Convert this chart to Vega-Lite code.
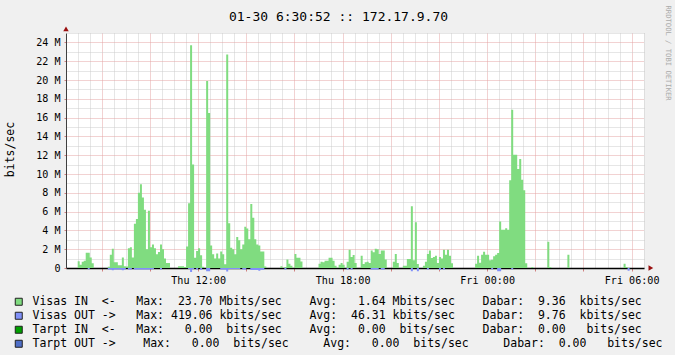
{
"$schema": "https://vega.github.io/schema/vega-lite/v6.json",
"width": 578, "height": 235,
"autosize": {"type": "none"},
"padding": {"left": 66, "top": 33, "right": 31, "bottom": 87},
"background": "#F0F0F0",
"config": {"view": {"stroke": null, "fill": "#FFFFFF"}, "font": "DejaVu Sans Mono"},
"data": {"values": [
{"t":"2009-01-29T07:00:00Z","i":0.71,"o":0},{"t":"2009-01-29T07:05:00Z","i":0.35,"o":0},{"t":"2009-01-29T07:10:00Z","i":0.67,"o":0},{"t":"2009-01-29T07:15:00Z","i":0.78,"o":0},{"t":"2009-01-29T07:20:00Z","i":1.63,"o":0},{"t":"2009-01-29T07:25:00Z","i":1.63,"o":-0.14},{"t":"2009-01-29T07:30:00Z","i":1.13,"o":0},{"t":"2009-01-29T07:35:00Z","i":0.5,"o":0},{"t":"2009-01-29T07:40:00Z","i":0,"o":0},
{"t":"2009-01-29T08:15:00Z","i":0.14,"o":-0.15},{"t":"2009-01-29T08:20:00Z","i":1.4,"o":-0.15},{"t":"2009-01-29T08:25:00Z","i":2.05,"o":-0.25},{"t":"2009-01-29T08:30:00Z","i":0.6,"o":-0.15},{"t":"2009-01-29T08:35:00Z","i":0.6,"o":-0.15},{"t":"2009-01-29T08:40:00Z","i":0.28,"o":-0.15},{"t":"2009-01-29T08:45:00Z","i":0.28,"o":-0.15},{"t":"2009-01-29T08:50:00Z","i":1.13,"o":-0.25},{"t":"2009-01-29T08:55:00Z","i":0.18,"o":-0.15},
{"t":"2009-01-29T09:00:00Z","i":0.15,"o":0},{"t":"2009-01-29T09:05:00Z","i":2.1,"o":-0.15},{"t":"2009-01-29T09:10:00Z","i":2.2,"o":-0.15},{"t":"2009-01-29T09:15:00Z","i":1.13,"o":0},{"t":"2009-01-29T09:20:00Z","i":4.7,"o":-0.15},{"t":"2009-01-29T09:25:00Z","i":5.2,"o":-0.15},{"t":"2009-01-29T09:30:00Z","i":8.0,"o":-0.15},{"t":"2009-01-29T09:35:00Z","i":8.9,"o":-0.15},{"t":"2009-01-29T09:40:00Z","i":7.5,"o":-0.15},{"t":"2009-01-29T09:45:00Z","i":6.2,"o":-0.15},{"t":"2009-01-29T09:50:00Z","i":2.0,"o":-0.15},{"t":"2009-01-29T09:55:00Z","i":6.1,"o":-0.15},
{"t":"2009-01-29T10:00:00Z","i":2.2,"o":-0.15},{"t":"2009-01-29T10:05:00Z","i":2.5,"o":-0.1},{"t":"2009-01-29T10:10:00Z","i":2.1,"o":0},{"t":"2009-01-29T10:15:00Z","i":1.45,"o":0},{"t":"2009-01-29T10:20:00Z","i":1.7,"o":0},{"t":"2009-01-29T10:25:00Z","i":2.5,"o":-0.15},{"t":"2009-01-29T10:30:00Z","i":2.0,"o":0},{"t":"2009-01-29T10:35:00Z","i":1.0,"o":0},{"t":"2009-01-29T10:40:00Z","i":0.53,"o":0},{"t":"2009-01-29T10:45:00Z","i":0.53,"o":0},{"t":"2009-01-29T10:50:00Z","i":0,"o":0},
{"t":"2009-01-29T11:10:00Z","i":0.18,"o":0},{"t":"2009-01-29T11:15:00Z","i":0.18,"o":0},{"t":"2009-01-29T11:20:00Z","i":0.18,"o":0},{"t":"2009-01-29T11:25:00Z","i":0.1,"o":0},{"t":"2009-01-29T11:30:00Z","i":2.3,"o":0},{"t":"2009-01-29T11:35:00Z","i":6.9,"o":-0.1},{"t":"2009-01-29T11:40:00Z","i":23.7,"o":-0.42},{"t":"2009-01-29T11:45:00Z","i":11.0,"o":-0.1},{"t":"2009-01-29T11:50:00Z","i":1.1,"o":0},{"t":"2009-01-29T11:55:00Z","i":1.8,"o":-0.15},
{"t":"2009-01-29T12:00:00Z","i":2.1,"o":0},{"t":"2009-01-29T12:05:00Z","i":1.35,"o":-0.2},{"t":"2009-01-29T12:10:00Z","i":0.14,"o":0},{"t":"2009-01-29T12:15:00Z","i":0,"o":0},{"t":"2009-01-29T12:20:00Z","i":19.9,"o":-0.35},{"t":"2009-01-29T12:25:00Z","i":16.5,"o":-0.35},{"t":"2009-01-29T12:30:00Z","i":2.4,"o":0},{"t":"2009-01-29T12:35:00Z","i":1.45,"o":0},{"t":"2009-01-29T12:40:00Z","i":1.0,"o":0},{"t":"2009-01-29T12:45:00Z","i":1.55,"o":0},{"t":"2009-01-29T12:50:00Z","i":1.0,"o":0},{"t":"2009-01-29T12:55:00Z","i":1.75,"o":-0.15},
{"t":"2009-01-29T13:00:00Z","i":1.45,"o":-0.15},{"t":"2009-01-29T13:05:00Z","i":0.4,"o":-0.15},{"t":"2009-01-29T13:10:00Z","i":22.7,"o":-0.38},{"t":"2009-01-29T13:15:00Z","i":4.75,"o":-0.1},{"t":"2009-01-29T13:20:00Z","i":2.15,"o":-0.1},{"t":"2009-01-29T13:25:00Z","i":2.0,"o":-0.1},{"t":"2009-01-29T13:30:00Z","i":1.45,"o":-0.1},{"t":"2009-01-29T13:35:00Z","i":3.3,"o":-0.1},{"t":"2009-01-29T13:40:00Z","i":2.95,"o":-0.1},{"t":"2009-01-29T13:45:00Z","i":2.0,"o":0},{"t":"2009-01-29T13:50:00Z","i":2.5,"o":-0.15},{"t":"2009-01-29T13:55:00Z","i":4.4,"o":-0.15},
{"t":"2009-01-29T14:00:00Z","i":4.2,"o":0},{"t":"2009-01-29T14:05:00Z","i":3.05,"o":0},{"t":"2009-01-29T14:10:00Z","i":6.8,"o":-0.2},{"t":"2009-01-29T14:15:00Z","i":5.35,"o":-0.2},{"t":"2009-01-29T14:20:00Z","i":3.05,"o":-0.2},{"t":"2009-01-29T14:25:00Z","i":2.5,"o":-0.2},{"t":"2009-01-29T14:30:00Z","i":2.4,"o":-0.28},{"t":"2009-01-29T14:35:00Z","i":1.75,"o":-0.18},{"t":"2009-01-29T14:40:00Z","i":1.75,"o":-0.18},{"t":"2009-01-29T14:45:00Z","i":0.15,"o":0},{"t":"2009-01-29T14:50:00Z","i":0,"o":0},
{"t":"2009-01-29T15:25:00Z","i":0.18,"o":0},{"t":"2009-01-29T15:30:00Z","i":0,"o":0},{"t":"2009-01-29T15:35:00Z","i":0.1,"o":-0.15},{"t":"2009-01-29T15:40:00Z","i":0.9,"o":0},{"t":"2009-01-29T15:45:00Z","i":0.46,"o":0},{"t":"2009-01-29T15:50:00Z","i":0.25,"o":0},{"t":"2009-01-29T15:55:00Z","i":0,"o":0},
{"t":"2009-01-29T16:00:00Z","i":1.5,"o":0},{"t":"2009-01-29T16:05:00Z","i":1.1,"o":0},{"t":"2009-01-29T16:10:00Z","i":1.1,"o":0},{"t":"2009-01-29T16:15:00Z","i":0.7,"o":0},{"t":"2009-01-29T16:20:00Z","i":0,"o":0},
{"t":"2009-01-29T17:00:00Z","i":0.46,"o":0},{"t":"2009-01-29T17:05:00Z","i":0.67,"o":0},{"t":"2009-01-29T17:10:00Z","i":0.6,"o":0},{"t":"2009-01-29T17:15:00Z","i":0.78,"o":0},{"t":"2009-01-29T17:20:00Z","i":0.78,"o":0},{"t":"2009-01-29T17:25:00Z","i":1.1,"o":0},{"t":"2009-01-29T17:30:00Z","i":1.1,"o":0},{"t":"2009-01-29T17:35:00Z","i":0.78,"o":0},{"t":"2009-01-29T17:40:00Z","i":0.25,"o":0},{"t":"2009-01-29T17:45:00Z","i":0,"o":0},{"t":"2009-01-29T17:50:00Z","i":0.35,"o":0},{"t":"2009-01-29T17:55:00Z","i":0.53,"o":0},
{"t":"2009-01-29T18:00:00Z","i":0.35,"o":0},{"t":"2009-01-29T18:05:00Z","i":0,"o":0},{"t":"2009-01-29T18:10:00Z","i":0.67,"o":-0.15},{"t":"2009-01-29T18:15:00Z","i":1.95,"o":0},{"t":"2009-01-29T18:20:00Z","i":1.17,"o":-0.15},{"t":"2009-01-29T18:25:00Z","i":1.38,"o":0},{"t":"2009-01-29T18:30:00Z","i":0.53,"o":0},{"t":"2009-01-29T18:35:00Z","i":0,"o":0},{"t":"2009-01-29T18:45:00Z","i":1.3,"o":0},{"t":"2009-01-29T18:50:00Z","i":0.43,"o":0},{"t":"2009-01-29T18:55:00Z","i":0.6,"o":0},
{"t":"2009-01-29T19:00:00Z","i":0.67,"o":0},{"t":"2009-01-29T19:05:00Z","i":0.53,"o":0},{"t":"2009-01-29T19:10:00Z","i":1.85,"o":-0.15},{"t":"2009-01-29T19:15:00Z","i":1.67,"o":-0.15},{"t":"2009-01-29T19:20:00Z","i":2.05,"o":-0.15},{"t":"2009-01-29T19:25:00Z","i":2.0,"o":-0.15},{"t":"2009-01-29T19:30:00Z","i":1.5,"o":0},{"t":"2009-01-29T19:35:00Z","i":1.85,"o":-0.15},{"t":"2009-01-29T19:40:00Z","i":1.85,"o":-0.15},{"t":"2009-01-29T19:45:00Z","i":0.9,"o":0},{"t":"2009-01-29T19:50:00Z","i":0,"o":0},
{"t":"2009-01-29T20:05:00Z","i":0.67,"o":0},{"t":"2009-01-29T20:10:00Z","i":1.5,"o":0},{"t":"2009-01-29T20:15:00Z","i":0.53,"o":0},{"t":"2009-01-29T20:20:00Z","i":0,"o":0},{"t":"2009-01-29T20:30:00Z","i":0.25,"o":0},{"t":"2009-01-29T20:35:00Z","i":0.25,"o":0},{"t":"2009-01-29T20:40:00Z","i":0.96,"o":0},{"t":"2009-01-29T20:45:00Z","i":0.96,"o":0},{"t":"2009-01-29T20:50:00Z","i":6.56,"o":-0.35},{"t":"2009-01-29T20:55:00Z","i":0.82,"o":0},
{"t":"2009-01-29T21:00:00Z","i":4.86,"o":0},{"t":"2009-01-29T21:05:00Z","i":0.43,"o":-0.35},{"t":"2009-01-29T21:10:00Z","i":0,"o":0},{"t":"2009-01-29T21:20:00Z","i":0.25,"o":0},{"t":"2009-01-29T21:25:00Z","i":0.67,"o":0},{"t":"2009-01-29T21:30:00Z","i":1.5,"o":-0.15},{"t":"2009-01-29T21:35:00Z","i":1.85,"o":0},{"t":"2009-01-29T21:40:00Z","i":1.06,"o":0},{"t":"2009-01-29T21:45:00Z","i":1.17,"o":0},{"t":"2009-01-29T21:50:00Z","i":1.3,"o":0},{"t":"2009-01-29T21:55:00Z","i":0.53,"o":0},
{"t":"2009-01-29T22:00:00Z","i":1.17,"o":-0.2},{"t":"2009-01-29T22:05:00Z","i":1.0,"o":0},{"t":"2009-01-29T22:10:00Z","i":1.95,"o":-0.15},{"t":"2009-01-29T22:15:00Z","i":1.42,"o":0},{"t":"2009-01-29T22:20:00Z","i":1.95,"o":0},{"t":"2009-01-29T22:25:00Z","i":1.3,"o":0},{"t":"2009-01-29T22:30:00Z","i":0.5,"o":0},{"t":"2009-01-29T22:35:00Z","i":0,"o":0},
{"t":"2009-01-29T23:30:00Z","i":0.46,"o":0},{"t":"2009-01-29T23:35:00Z","i":1.3,"o":0},{"t":"2009-01-29T23:40:00Z","i":0.57,"o":0},{"t":"2009-01-29T23:45:00Z","i":1.42,"o":0},{"t":"2009-01-29T23:50:00Z","i":1.74,"o":0},{"t":"2009-01-29T23:55:00Z","i":1.42,"o":0},
{"t":"2009-01-30T00:00:00Z","i":1.42,"o":0},{"t":"2009-01-30T00:05:00Z","i":0.82,"o":0},{"t":"2009-01-30T00:10:00Z","i":0.89,"o":-0.14},{"t":"2009-01-30T00:15:00Z","i":1.24,"o":0},{"t":"2009-01-30T00:20:00Z","i":1.42,"o":0},{"t":"2009-01-30T00:25:00Z","i":1.6,"o":-0.35},{"t":"2009-01-30T00:30:00Z","i":4.96,"o":-0.35},{"t":"2009-01-30T00:35:00Z","i":4.08,"o":0},{"t":"2009-01-30T00:40:00Z","i":4.08,"o":0},{"t":"2009-01-30T00:45:00Z","i":4.22,"o":0},{"t":"2009-01-30T00:50:00Z","i":4.08,"o":0},{"t":"2009-01-30T00:55:00Z","i":9.33,"o":0},
{"t":"2009-01-30T01:00:00Z","i":16.84,"o":-0.14},{"t":"2009-01-30T01:05:00Z","i":12.06,"o":0},{"t":"2009-01-30T01:10:00Z","i":12.06,"o":0},{"t":"2009-01-30T01:15:00Z","i":10.53,"o":0},{"t":"2009-01-30T01:20:00Z","i":11.6,"o":0},{"t":"2009-01-30T01:25:00Z","i":9.4,"o":0},{"t":"2009-01-30T01:30:00Z","i":8.26,"o":0},{"t":"2009-01-30T01:35:00Z","i":0.5,"o":0},{"t":"2009-01-30T01:40:00Z","i":0,"o":0},{"t":"2009-01-30T01:50:00Z","i":0.1,"o":0},{"t":"2009-01-30T01:55:00Z","i":0,"o":0},
{"t":"2009-01-30T02:30:00Z","i":2.8,"o":0},{"t":"2009-01-30T02:35:00Z","i":0.1,"o":0},{"t":"2009-01-30T02:40:00Z","i":0,"o":0},{"t":"2009-01-30T03:20:00Z","i":1.42,"o":0},{"t":"2009-01-30T03:25:00Z","i":0,"o":0},
{"t":"2009-01-30T05:40:00Z","i":0.46,"o":0},{"t":"2009-01-30T05:45:00Z","i":0.1,"o":0},{"t":"2009-01-30T05:50:00Z","i":0,"o":-0.28},{"t":"2009-01-30T05:55:00Z","i":0,"o":0}
]},
"layer": [
{
"mark": {"type": "area", "interpolate": "step-after"},
"encoding": {
"x": {"field": "t", "type": "temporal", "scale": {"type": "utc", "domain": [1233210652000, 1233297052000]},
"axis": {"orient": "top", "grid": true, "gridColor": "#CDCDCD", "gridDash": [1, 1], "gridWidth": 1,
"values": [1233212400000,1233214200000,1233217800000,1233219600000,1233221400000,1233225000000,1233226800000,1233228600000,1233232200000,1233234000000,1233235800000,1233239400000,1233241200000,1233243000000,1233246600000,1233248400000,1233250200000,1233253800000,1233255600000,1233257400000,1233261000000,1233262800000,1233264600000,1233268200000,1233270000000,1233271800000,1233275400000,1233277200000,1233279000000,1233282600000,1233284400000,1233286200000,1233289800000,1233291600000,1233293400000,1233297000000],
"labels": false, "ticks": false, "domain": false,
"title": "01-30 6:30:52 :: 172.17.9.70", "titleX": 272, "titleY": -13, "titleAlign": "center", "titleBaseline": "alphabetic", "titleFont": "DejaVu Sans Mono", "titleFontSize": 13, "titleFontWeight": "normal", "titleColor": "#000000"}},
"y": {"field": "o", "type": "quantitative", "scale": {"domain": [0, 25], "nice": false},
"axis": {"orient": "right", "grid": true, "gridColor": "#CDCDCD", "gridDash": [1, 1], "values": [1,3,5,7,9,11,13,15,17,19,21,23,25], "labels": false, "ticks": false, "domain": false,
"title": "RRDTOOL / TOBI OETIKER", "titleAngle": 90, "titleX": 23, "titleY": -28, "titleAlign": "left", "titleBaseline": "middle", "titleFont": "DejaVu Sans Mono", "titleFontSize": 7.2, "titleFontWeight": "normal", "titleColor": "#ABABAB"}},
"color": {"datum": "Visas OUT", "type": "nominal", "scale": {"domain": ["Visas IN", "Visas OUT", "Tarpt IN", "Tarpt OUT"], "range": ["#80DC80", "#8090F8", "#00A000", "#4F6FC8"]}}
}
},
{
"mark": {"type": "area", "interpolate": "step-after"},
"encoding": {
"x": {"field": "t", "type": "temporal", "scale": {"type": "utc", "domain": [1233210652000, 1233297052000]},
"axis": {"orient": "bottom", "grid": true, "gridColor": "#E4A4A4", "gridDash": [1, 1], "gridWidth": 1,
"values": [1233216000000,1233223200000,1233230400000,1233237600000,1233244800000,1233252000000,1233259200000,1233266400000,1233273600000,1233280800000,1233288000000,1233295200000],
"ticks": true, "tickSize": 3, "tickColor": "#D08080", "domain": true, "domainColor": "#000000", "domainWidth": 1.5,
"labelExpr": "utchours(datum.value) % 6 == 0 ? utcFormat(datum.value, '%a %H:%M') : ''", "labelFont": "DejaVu Sans Mono", "labelFontSize": 10.1, "labelColor": "#000000", "labelPadding": 4, "labelFlush": false, "labelOverlap": false, "labelBaseline": "top", "title": null}},
"y": {"field": "i", "type": "quantitative", "scale": {"domain": [0, 25], "nice": false},
"axis": {"orient": "left", "grid": true, "gridColor": "#E4A4A4", "gridDash": [1, 1], "values": [0,2,4,6,8,10,12,14,16,18,20,22,24], "ticks": true, "tickSize": 2, "tickColor": "#D08080", "domain": true, "domainColor": "#404040", "domainWidth": 1,
"labelExpr": "datum.value == 0 ? '0' : datum.value + ' M'", "labelFont": "DejaVu Sans Mono", "labelFontSize": 10.1, "labelColor": "#000000", "labelPadding": 4,
"title": "bits/sec", "titleFont": "DejaVu Sans Mono", "titleFontSize": 11.5, "titleFontWeight": "normal", "titleColor": "#000000", "titleAngle": 270, "titleX": -56, "titleY": 116, "titleAlign": "center", "titleBaseline": "middle"}},
"color": {"datum": "Visas IN", "type": "nominal", "scale": {"domain": ["Visas IN", "Visas OUT", "Tarpt IN", "Tarpt OUT"], "range": ["#80DC80", "#8090F8", "#00A000", "#4F6FC8"]},
"legend": {"orient": "none", "legendX": -53, "legendY": 263, "title": null, "padding": 0, "symbolType": "square", "symbolSize": 49, "symbolStrokeColor": "#202020", "symbolStrokeWidth": 1, "symbolOpacity": 1,
"labelFont": "DejaVu Sans Mono", "labelFontSize": 11.5, "labelColor": "#000000", "labelOffset": 8, "labelLimit": 1000, "rowPadding": 1,
"labelExpr": "datum.label == 'Visas IN' ? 'Visas\u00a0IN\u00a0\u00a0<-\u00a0\u00a0\u00a0Max:\u00a0\u00a023.70\u00a0Mbits/sec\u00a0\u00a0\u00a0\u00a0Avg:\u00a0\u00a0\u00a01.64\u00a0Mbits/sec\u00a0\u00a0\u00a0\u00a0Dabar:\u00a0\u00a09.36\u00a0\u00a0kbits/sec' : datum.label == 'Visas OUT' ? 'Visas\u00a0OUT\u00a0->\u00a0\u00a0\u00a0Max:\u00a0419.06\u00a0kbits/sec\u00a0\u00a0\u00a0\u00a0Avg:\u00a0\u00a046.31\u00a0kbits/sec\u00a0\u00a0\u00a0\u00a0Dabar:\u00a0\u00a09.76\u00a0\u00a0kbits/sec' : datum.label == 'Tarpt IN' ? 'Tarpt\u00a0IN\u00a0\u00a0<-\u00a0\u00a0\u00a0Max:\u00a0\u00a0\u00a00.00\u00a0\u00a0bits/sec\u00a0\u00a0\u00a0\u00a0Avg:\u00a0\u00a0\u00a00.00\u00a0\u00a0bits/sec\u00a0\u00a0\u00a0\u00a0Dabar:\u00a0\u00a00.00\u00a0\u00a0\u00a0bits/sec' : 'Tarpt\u00a0OUT\u00a0->\u00a0\u00a0\u00a0\u00a0Max:\u00a0\u00a0\u00a00.00\u00a0\u00a0bits/sec\u00a0\u00a0\u00a0\u00a0\u00a0Avg:\u00a0\u00a0\u00a00.00\u00a0\u00a0bits/sec\u00a0\u00a0\u00a0\u00a0\u00a0Dabar:\u00a0\u00a00.00\u00a0\u00a0\u00a0bits/sec'"}}
}
},
{
"data": {"values": [{"a": 1}]},
"mark": {"type": "point", "shape": "triangle-right", "filled": true, "size": 30, "color": "#9A1010", "opacity": 1},
"encoding": {
"x": {"datum": 1233298080000, "type": "temporal", "scale": {"type": "utc", "domain": [1233210652000, 1233297052000]}, "axis": null},
"y": {"datum": 0, "type": "quantitative", "scale": {"domain": [0, 25], "nice": false}, "axis": null}
}
},
{
"data": {"values": [{"a": 1}]},
"mark": {"type": "point", "shape": "triangle-up", "filled": true, "size": 30, "color": "#9A1010", "opacity": 1},
"encoding": {
"x": {"datum": 1233210652000, "type": "temporal", "scale": {"type": "utc", "domain": [1233210652000, 1233297052000]}, "axis": null},
"y": {"datum": 25.45, "type": "quantitative", "scale": {"domain": [0, 25], "nice": false}, "axis": null}
}
}
],
"resolve": {"axis": {"x": "independent", "y": "independent"}}
}
